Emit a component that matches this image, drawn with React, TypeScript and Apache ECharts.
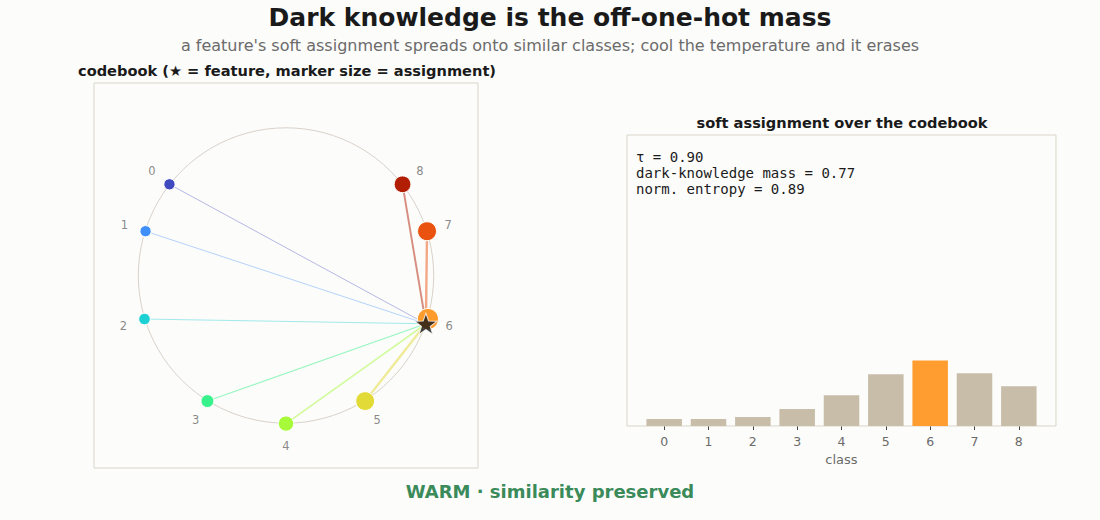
import React, { useEffect, useRef } from "react";
import * as echarts from "echarts";

const classes = ["0", "1", "2", "3", "4", "5", "6", "7", "8"];
const codeX = [-0.789, -0.951, -0.958, -0.532, 0.0, 0.536, 0.961, 0.955, 0.789];
const codeY = [0.616, 0.299, -0.294, -0.848, -1.0, -0.848, -0.294, 0.299, 0.616];
const assignment = [0.025, 0.025, 0.032, 0.06, 0.109, 0.183, 0.232, 0.187, 0.141];
const classColors = ["#3f49c0", "#3e8ff9", "#1dd0d4", "#37f28a", "#a6fa3a", "#e2da36", "#fe9b2d", "#e9520f", "#b21e04"];
const feature = [0.947, -0.326];
const activeClass = 6;
const statLines = ["τ = 0.90", "dark-knowledge mass = 0.77", "norm. entropy = 0.89"];

const FONT = "DejaVu Sans, sans-serif";
const MONO = "DejaVu Sans Mono, monospace";
const STAR = "path://M0,-10 L2.35,-3.24 9.51,-3.09 3.8,1.24 5.88,8.09 0,4 -5.88,8.09 -3.8,1.24 -9.51,-3.09 -2.35,-3.24Z";

export default function App() {
  const ref = useRef<HTMLDivElement>(null);
  useEffect(() => {
    const chart = echarts.init(ref.current!, null, { renderer: "svg" });
    const pts = classes.map((c, i) => ({
      value: [codeX[i], codeY[i]],
      name: c,
      symbolSize: 10 + 48 * assignment[i],
      itemStyle: { color: classColors[i] },
    }));
    const labelPts = classes.map((c, i) => ({ value: [codeX[i] * 1.15, codeY[i] * 1.15], name: c }));
    const links = classes.map((c, i) => ({
      coords: [[codeX[i], codeY[i]], feature],
      lineStyle: { color: classColors[i], width: 0.5 + 10 * assignment[i], opacity: 0.5 },
    }));
    chart.setOption({
      animation: false,
      backgroundColor: "#fcfcfa",
      title: [
        { text: "Dark knowledge is the off-one-hot mass", left: 545, top: 0, textAlign: "center",
          textStyle: { fontFamily: FONT, fontSize: 25, fontWeight: "bold", color: "#1a1a1a" } },
        { text: "a feature's soft assignment spreads onto similar classes; cool the temperature and it erases", left: 545, top: 32, textAlign: "center",
          textStyle: { fontFamily: FONT, fontSize: 16, fontWeight: "normal", color: "#6b6b6b" } },
        { text: "codebook (★ = feature, marker size = assignment)", left: 282, top: 58, textAlign: "center",
          textStyle: { fontFamily: FONT, fontSize: 14.6, fontWeight: "bold", color: "#1a1a1a" } },
        { text: "soft assignment over the codebook", left: 837, top: 110, textAlign: "center",
          textStyle: { fontFamily: FONT, fontSize: 14.6, fontWeight: "bold", color: "#1a1a1a" } },
        { text: "WARM · similarity preserved", left: 545, top: 477, textAlign: "center",
          textStyle: { fontFamily: FONT, fontSize: 18, fontWeight: "bold", color: "#3a8a5a" } },
      ],
      grid: [
        { left: 94, top: 83, width: 384, height: 385, show: true, borderColor: "#d9d6c8", borderWidth: 1, backgroundColor: "transparent" },
        { left: 642, top: 135, width: 399, height: 291 },
      ],
      xAxis: [
        { type: "value", gridIndex: 0, min: -1.3, max: 1.3, show: false },
        { type: "category", gridIndex: 1, data: classes,
          axisLine: { show: false },
          axisTick: { show: true, alignWithLabel: true, length: 4, lineStyle: { color: "#444" } },
          axisLabel: { fontFamily: FONT, fontSize: 12.5, color: "#6b6b6b", margin: 9 },
          name: "class", nameLocation: "middle", nameGap: 27,
          nameTextStyle: { fontFamily: FONT, fontSize: 13, color: "#6b6b6b" } },
      ],
      yAxis: [
        { type: "value", gridIndex: 0, min: -1.3, max: 1.3, show: false },
        { type: "value", gridIndex: 1, min: 0, max: 1.03, show: false },
      ],
      series: [
        { type: "lines", coordinateSystem: "cartesian2d", xAxisIndex: 0, yAxisIndex: 0, z: 2, silent: true, data: links },
        { type: "scatter", xAxisIndex: 0, yAxisIndex: 0, z: 3, data: pts,
          itemStyle: { borderColor: "#ffffff", borderWidth: 1, opacity: 1 } },
        { type: "scatter", xAxisIndex: 0, yAxisIndex: 0, z: 3, symbolSize: 0, data: labelPts,
          label: { show: true, position: "inside", formatter: "{b}", fontFamily: FONT, fontSize: 11.5, color: "#6b6b6b" } },
        { type: "scatter", xAxisIndex: 0, yAxisIndex: 0, z: 4, symbol: STAR, symbolSize: [22, 21],
          data: [feature], itemStyle: { color: "#151515", borderColor: "#ffffff", borderWidth: 1 } },
        { type: "bar", xAxisIndex: 1, yAxisIndex: 1, barWidth: 35.5,
          data: assignment.map((v, i) => ({ value: v, itemStyle: { color: i === activeClass ? "#ff9d30" : "#c8bda9" } })) },
      ],
    });
    const c = chart.convertToPixel({ gridIndex: 0 }, [0, 0]) as number[];
    const e = chart.convertToPixel({ gridIndex: 0 }, [1, 0]) as number[];
    const r = e[0] - c[0];
    chart.setOption({
      graphic: [
        { type: "circle", z: 1, silent: true, shape: { cx: c[0], cy: c[1], r },
          style: { fill: "none", stroke: "#d9d2ca", lineWidth: 1 } },
        { type: "rect", z: 1, silent: true, shape: { x: 627, y: 135, width: 429, height: 291 },
          style: { fill: "none", stroke: "#d9d6c8", lineWidth: 1 } },
        { type: "text", z: 5, x: 636, y: 149,
          style: { text: statLines.join("\n"), fontFamily: MONO, fontSize: 14, lineHeight: 16, fill: "#1a1a1a" } },
      ],
    });
    return () => chart.dispose();
  }, []);
  return <div ref={ref} style={{ width: 1100, height: 520, position: "absolute", left: 0, top: 0 }} />;
}
